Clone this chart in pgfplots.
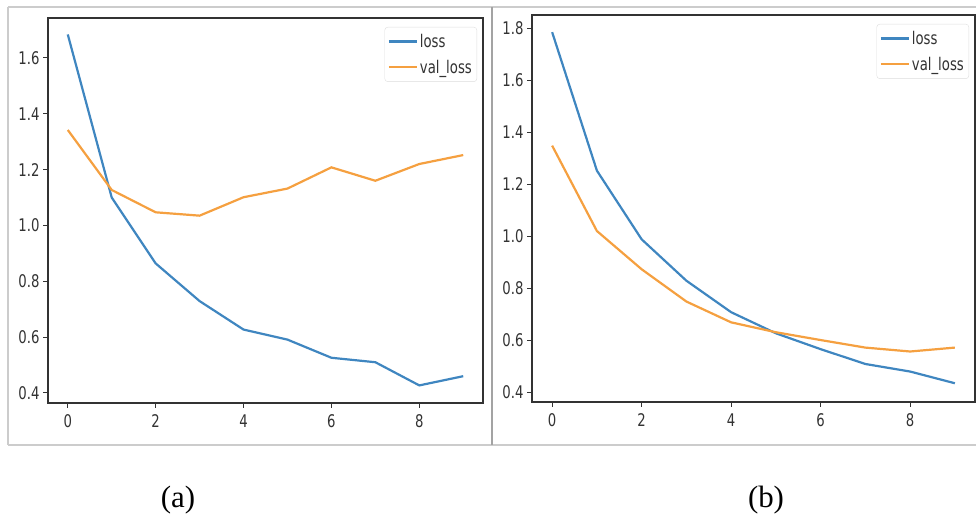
\documentclass[border=0pt]{standalone}
\usepackage{pgfplots}
\pgfplotsset{compat=1.18}
\usepackage{fontspec}
\setmainfont{Liberation Serif}
\newfontfamily\tickfont[FakeStretch=0.76]{DejaVu Sans}
\definecolor{mblue}{HTML}{3F86C0}
\definecolor{morange}{HTML}{F5A040}
\definecolor{framegray}{HTML}{CCCCCC}
\definecolor{axgray}{HTML}{333333}
\definecolor{leggray}{HTML}{DDDDDD}

\pgfplotsset{
  myaxis/.style={
    scale only axis,
    anchor=south west,
    xmin=-0.45, xmax=9.45,
    xtick={0,2,4,6,8},
    axis line style={axgray, line width=1.2bp},
    tick align=outside,
    major tick length=5bp,
    tick style={axgray, line width=1bp},
    tick pos=left,
    ticklabel style={font=\tickfont\fontsize{17.5}{19}\selectfont, text=axgray},
    x tick label style={yshift=-3bp},
    /pgf/number format/assume math mode=true,
    y tick label style={/pgf/number format/.cd, fixed, fixed zerofill, precision=1},
    legend style={at={(1,1)}, anchor=north east, xshift=-6bp, yshift=-9bp,
      draw=leggray, rounded corners=3bp, fill=white,
      font=\tickfont\fontsize{17.5}{19}\selectfont, text=axgray,
      inner xsep=3bp, inner ysep=5bp, row sep=7bp},
    legend cell align=left,
    legend image code/.code={\draw[##1, line width=2.2bp] (0bp,0bp) -- (28bp,0bp);},
  }
}

\begin{document}
\begin{tikzpicture}[x=1bp, y=1bp]
\path[use as bounding box] (0,0) rectangle (976,518);
% panel frames
\draw[framegray, line width=1.5bp] (8,511) -- (976,511);
\draw[framegray, line width=1.5bp] (8,73) -- (976,73);
\draw[framegray, line width=1.5bp] (8,511) -- (8,73);
\draw[framegray!80!black, line width=1.2bp] (492,511) -- (492,73);

\begin{axis}[myaxis, at={(48bp,115bp)}, width=435bp, height=385bp,
  ymin=0.364, ymax=1.743, ytick={0.4,0.6,0.8,1.0,1.2,1.4,1.6}]
\addplot[mblue, line width=2.2bp] coordinates {
 (0,1.684) (1,1.100) (2,0.864) (3,0.729) (4,0.627) (5,0.591) (6,0.526) (7,0.510) (8,0.427) (9,0.460)};
\addlegendentry{loss}
\addplot[morange, line width=2.2bp] coordinates {
 (0,1.342) (1,1.127) (2,1.047) (3,1.035) (4,1.101) (5,1.132) (6,1.208) (7,1.160) (8,1.220) (9,1.252)};
\addlegendentry{val\_loss}
\end{axis}

\begin{axis}[myaxis, at={(532bp,116bp)}, width=443bp, height=387bp,
  ymin=0.364, ymax=1.851, ytick={0.4,0.6,0.8,1.0,1.2,1.4,1.6,1.8}]
\addplot[mblue, line width=2.2bp] coordinates {
 (0,1.785) (1,1.253) (2,0.989) (3,0.830) (4,0.709) (5,0.628) (6,0.567) (7,0.510) (8,0.481) (9,0.436)};
\addlegendentry{loss}
\addplot[morange, line width=2.2bp] coordinates {
 (0,1.349) (1,1.021) (2,0.874) (3,0.750) (4,0.670) (5,0.632) (6,0.602) (7,0.573) (8,0.558) (9,0.573)};
\addlegendentry{val\_loss}
\end{axis}

\node[anchor=base, font=\fontsize{31}{33}\selectfont] at (178,10) {(a)};
\node[anchor=base, font=\fontsize{31}{33}\selectfont] at (766,10) {(b)};
\end{tikzpicture}
\end{document}
